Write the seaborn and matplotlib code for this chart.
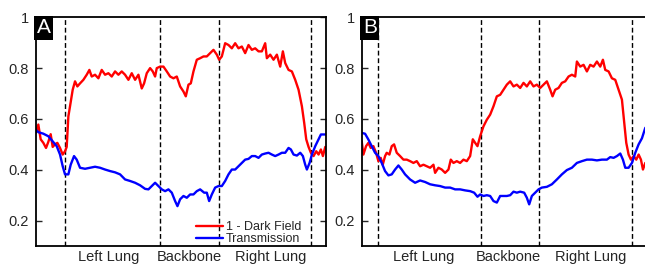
import numpy as np
import pandas as pd
import matplotlib
matplotlib.use("Agg")
import matplotlib.pyplot as plt
import seaborn as sns

# ---------------- data (profile position in detector pixels) ----------------
posA_red = [0, 8, 15, 23, 31, 38, 45, 51, 58, 65, 73, 81, 88, 93, 98, 103, 111, 118, 125, 133,
            143, 153, 161, 168, 178, 188, 198, 208, 218, 228, 238, 248, 258, 268, 278, 288, 298,
            308, 318, 325, 333, 343, 351, 358, 363, 373, 383, 393, 403, 413, 423, 433, 443, 450,
            458, 465, 473, 483, 493, 503, 513, 523, 533, 543, 550, 558, 568, 578, 588, 598, 608,
            618, 628, 638, 648, 658, 668, 678, 688, 693, 703, 713, 723, 733, 741, 748, 758, 768,
            778, 788, 798, 805, 811, 818, 825, 833, 841, 848, 855, 861, 868]
darkA = [0.545, 0.578, 0.52, 0.506, 0.486, 0.51, 0.54, 0.49, 0.50, 0.506, 0.486, 0.46, 0.473,
         0.49, 0.61, 0.65, 0.715, 0.748, 0.728, 0.74, 0.754, 0.774, 0.793, 0.767, 0.774, 0.76,
         0.793, 0.774, 0.78, 0.767, 0.787, 0.774, 0.787, 0.774, 0.754, 0.78, 0.754, 0.774, 0.72,
         0.74, 0.78, 0.80, 0.787, 0.767, 0.80, 0.806, 0.806, 0.787, 0.767, 0.76, 0.767, 0.728,
         0.708, 0.689, 0.735, 0.74, 0.787, 0.833, 0.839, 0.846, 0.846, 0.859, 0.872, 0.853, 0.833,
         0.846, 0.898, 0.891, 0.878, 0.898, 0.878, 0.885, 0.859, 0.891, 0.872, 0.878, 0.866,
         0.866, 0.898, 0.839, 0.853, 0.833, 0.853, 0.806, 0.866, 0.82, 0.793, 0.787, 0.754,
         0.715, 0.65, 0.584, 0.52, 0.49, 0.467, 0.454, 0.473, 0.46, 0.48, 0.454, 0.49]

posA_blue = [0, 8, 23, 38, 51, 63, 73, 81, 88, 98, 105, 115, 123, 133, 148, 163, 178, 193, 208,
             223, 238, 253, 268, 283, 298, 313, 328, 338, 348, 358, 368, 378, 388, 398, 408, 418,
             425, 433, 443, 453, 463, 473, 483, 493, 505, 513, 520, 528, 538, 548, 558, 568, 578,
             588, 598, 608, 618, 628, 638, 648, 658, 668, 678, 688, 698, 708, 718, 728, 738, 748,
             758, 765, 773, 783, 793, 801, 808, 813, 821, 828, 838, 848, 855, 863, 871]
transA = [0.558, 0.548, 0.542, 0.532, 0.512, 0.493, 0.46, 0.414, 0.382, 0.382, 0.42, 0.454, 0.44,
          0.408, 0.404, 0.408, 0.412, 0.408, 0.401, 0.395, 0.39, 0.382, 0.362, 0.356, 0.349, 0.339,
          0.325, 0.323, 0.336, 0.349, 0.336, 0.323, 0.316, 0.323, 0.31, 0.277, 0.257, 0.284, 0.297,
          0.29, 0.303, 0.303, 0.316, 0.323, 0.31, 0.31, 0.277, 0.303, 0.33, 0.336, 0.336, 0.356,
          0.382, 0.401, 0.401, 0.414, 0.427, 0.44, 0.443, 0.454, 0.454, 0.447, 0.46, 0.464, 0.467,
          0.46, 0.454, 0.46, 0.467, 0.467, 0.486, 0.48, 0.46, 0.456, 0.467, 0.454, 0.42, 0.401,
          0.427, 0.46, 0.493, 0.52, 0.539, 0.539, 0.539]

posB_red = [0, 5, 13, 20, 27, 35, 43, 50, 57, 63, 70, 75, 83, 90, 97, 105, 115, 125, 135, 145,
            155, 165, 175, 185, 195, 205, 215, 220, 230, 240, 250, 260, 267, 275, 285, 295, 305,
            315, 325, 333, 340, 347, 355, 365, 375, 385, 395, 405, 415, 425, 435, 445, 455, 465,
            475, 485, 495, 505, 515, 525, 535, 545, 555, 565, 572, 580, 590, 600, 610, 620, 630,
            640, 645, 655, 665, 675, 685, 695, 705, 715, 723, 730, 740, 750, 760, 770, 780, 787,
            793, 800, 807, 815, 823, 830, 837, 843, 850, 860, 871]
darkB = [0.512, 0.46, 0.493, 0.506, 0.486, 0.493, 0.467, 0.434, 0.447, 0.42, 0.454, 0.467, 0.46,
         0.493, 0.50, 0.467, 0.454, 0.44, 0.44, 0.434, 0.427, 0.434, 0.414, 0.42, 0.414, 0.408,
         0.42, 0.388, 0.408, 0.401, 0.388, 0.401, 0.44, 0.427, 0.434, 0.427, 0.44, 0.434, 0.454,
         0.52, 0.506, 0.493, 0.532, 0.571, 0.597, 0.617, 0.65, 0.689, 0.695, 0.715, 0.735, 0.748,
         0.728, 0.735, 0.722, 0.742, 0.728, 0.748, 0.728, 0.735, 0.722, 0.735, 0.748, 0.715, 0.689,
         0.715, 0.722, 0.742, 0.748, 0.767, 0.774, 0.767, 0.826, 0.806, 0.813, 0.787, 0.813,
         0.806, 0.826, 0.806, 0.833, 0.793, 0.787, 0.76, 0.754, 0.715, 0.676, 0.584, 0.506, 0.46,
         0.44, 0.454, 0.44, 0.46, 0.44, 0.401, 0.427, 0.43, 0.42]

posB_blue = [0, 10, 20, 30, 40, 50, 60, 70, 80, 90, 100, 110, 120, 130, 145, 160, 175, 190, 205,
             220, 235, 250, 265, 280, 295, 310, 325, 337, 347, 355, 365, 375, 385, 395, 405, 415,
             425, 435, 445, 455, 465, 475, 487, 495, 502, 510, 520, 530, 540, 555, 570, 585, 600,
             615, 630, 645, 660, 675, 690, 705, 720, 735, 745, 755, 765, 775, 783, 790, 800, 810,
             820, 830, 840, 850, 860, 871]
transB = [0.545, 0.542, 0.519, 0.493, 0.467, 0.454, 0.427, 0.395, 0.378, 0.382, 0.401, 0.417,
          0.401, 0.382, 0.362, 0.349, 0.358, 0.352, 0.343, 0.339, 0.336, 0.33, 0.33, 0.323, 0.323,
          0.319, 0.316, 0.31, 0.294, 0.303, 0.297, 0.30, 0.297, 0.277, 0.271, 0.297, 0.297, 0.297,
          0.30, 0.314, 0.31, 0.314, 0.31, 0.29, 0.264, 0.297, 0.31, 0.323, 0.33, 0.333, 0.343,
          0.362, 0.382, 0.399, 0.408, 0.427, 0.434, 0.44, 0.44, 0.437, 0.44, 0.44, 0.45, 0.447,
          0.454, 0.464, 0.44, 0.408, 0.408, 0.427, 0.467, 0.50, 0.524, 0.565, 0.575, 0.585]

boundsA = [89, 373, 550, 825]
boundsB = [50, 358, 532, 811]
region_labels = ["Left Lung", "Backbone", "Right Lung"]
label_posA = [218, 460, 703]
label_posB = [185, 440, 685]
series_names = ["1 - Dark Field", "Transmission"]
yticks = [0.2, 0.4, 0.6, 0.8, 1.0]
ytick_labels = ["0.2", "0.4", "0.6", "0.8", "1"]

# ---------------- styling ----------------
sns.set_style("ticks")
plt.rcParams["font.family"] = ["Liberation Sans", "DejaVu Sans"]
plt.rcParams["axes.linewidth"] = 1.3

fig = plt.figure(figsize=(6.45, 2.64), dpi=100)
axA = fig.add_axes([0.0553, 0.068, 0.4505, 0.8665])
axB = fig.add_axes([0.5608, 0.068, 0.4505, 0.8665])

palette = {series_names[0]: "#ff0000", series_names[1]: "#0000ff"}


def panel(ax, pos_r, red, pos_b, blue, bounds, lab_pos, letter, legend):
    df = pd.concat([
        pd.DataFrame({"pos": pos_r, "val": red, "series": series_names[0]}),
        pd.DataFrame({"pos": pos_b, "val": blue, "series": series_names[1]}),
    ])
    sns.lineplot(data=df, x="pos", y="val", hue="series", palette=palette, ax=ax,
                 linewidth=1.7, legend=legend, estimator=None, sort=False)
    for b in bounds:
        ax.axvline(b, color="black", lw=1.0, ls=(0, (3.5, 2)), zorder=1)
    ax.set_xlim(0, 871)
    ax.set_ylim(0.1, 1.0)
    ax.set_yticks(yticks)
    ax.set_yticklabels(ytick_labels)
    ax.set_xticks(lab_pos)
    ax.set_xticklabels(region_labels)
    ax.set_xlabel("")
    ax.set_ylabel("")
    ax.tick_params(axis="y", direction="in", length=4, width=1, right=True,
                   labelsize=10.5, pad=5)
    ax.tick_params(axis="x", length=0, labelsize=10.5, pad=3)
    for s in ax.spines.values():
        s.set_visible(True)
        s.set_color("black")
    ax.text(0.004, 0.995, letter, transform=ax.transAxes, ha="left", va="top",
            color="white", fontsize=15,
            bbox=dict(facecolor="black", edgecolor="none", boxstyle="square,pad=0.12"))
    if legend:
        ax.legend(frameon=False, loc="lower right", bbox_to_anchor=(0.945, -0.035),
                  fontsize=9.0, handlelength=2.2, labelspacing=0.0,
                  handletextpad=0.25, borderpad=0.2, title=None)


panel(axA, posA_red, darkA, posA_blue, transA, boundsA, label_posA, "A", True)
panel(axB, posB_red, darkB, posB_blue, transB, boundsB, label_posB, "B", False)

fig.savefig("out.png", dpi=100)
